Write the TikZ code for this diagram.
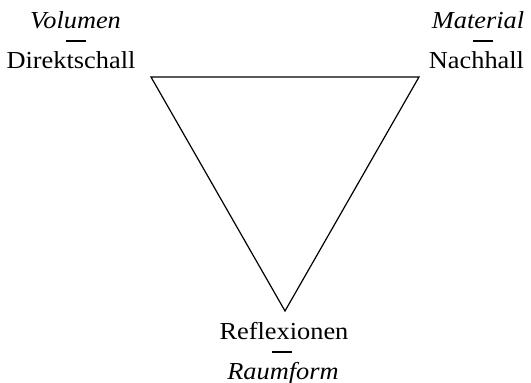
\documentclass[tikz,border=0pt]{standalone}
\usepackage{fontspec}
\setmainfont{Liberation Serif}[FakeStretch=1.08]
\usepackage{tikz}

\tikzset{
  begriff/.style={anchor=base, inner sep=0pt},
  merkmal/.style={anchor=base, inner sep=0pt, font=\fontsize{12.2}{14}\selectfont\itshape},
  strich/.style={fill=black, inner sep=0pt, minimum width=10pt, minimum height=0.55pt}
}

\begin{document}
\begin{tikzpicture}[x=0.5pt, y=-0.5pt, line width=0.6pt, font=\fontsize{12.2}{14}\selectfont]
    \useasboundingbox (0,0) rectangle (531,383);
    % Corners of the triangle
    \coordinate (D) at (151,77);
    \coordinate (N) at (419,77);
    \coordinate (R) at (285,311);
    \draw[line join=miter] (D) -- (N) -- (R) -- cycle;
    % Direct sound (top left)
    \node[merkmal] (vol) at (75.5,29) {Volumen};
    \node[strich] (s1) at (75.5,41) {};
    \node[begriff] (dir) at (71,69) {Direktschall};
    % Reverberation (top right)
    \node[merkmal] (mat) at (478,29) {Material};
    \node[strich] (s2) at (483,41) {};
    \node[begriff] (nach) at (476.5,69) {Nachhall};
    % Reflections (bottom)
    \node[begriff] (refl) at (284,340) {Reflexionen};
    \node[strich] (s3) at (282,352) {};
    \node[merkmal] (raum) at (283,380) {Raumform};
\end{tikzpicture}
\end{document}
